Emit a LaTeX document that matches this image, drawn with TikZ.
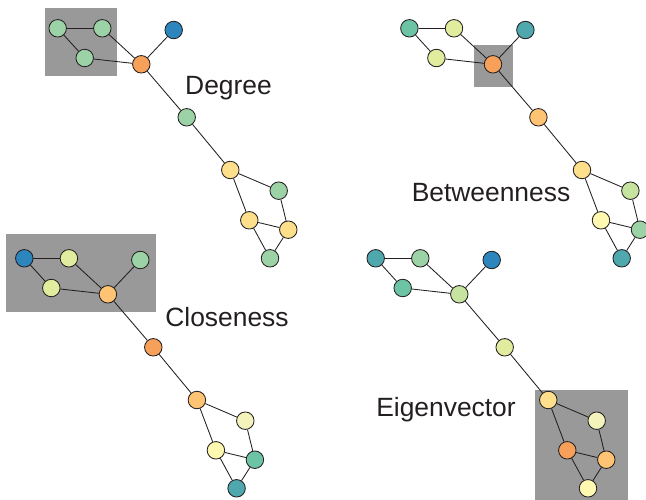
\documentclass[tikz,border=0pt]{standalone}
\usepackage{fontspec}
\setmainfont{Liberation Sans}
\definecolor{cBlue}{HTML}{2D85BE}
\definecolor{cTeal}{HTML}{4EA8AD}
\definecolor{cTealG}{HTML}{6CC4A5}
\definecolor{cGreen}{HTML}{9CD3A6}
\definecolor{cYG}{HTML}{C6E4A0}
\definecolor{cLime}{HTML}{E2EC9E}
\definecolor{cPale}{HTML}{F4F3BC}
\definecolor{cPaleY}{HTML}{FEF8B0}
\definecolor{cYellow}{HTML}{FDDF8C}
\definecolor{cLOrange}{HTML}{FEC373}
\definecolor{cOrange}{HTML}{F6A05A}
\definecolor{hlgray}{HTML}{999999}
\definecolor{ink}{HTML}{231F20}
\tikzset{
  vtx/.style={circle, draw=ink, line width=0.85pt, minimum size=17.5pt, inner sep=0pt},
  edge/.style={draw=ink, line width=0.85pt},
  hlbox/.style={fill=hlgray, draw=none},
  lbl/.style={font=\fontsize{26.4}{30}\selectfont, text=ink, anchor=base, inner sep=0pt}
}
\begin{document}
\begin{tikzpicture}[x=1pt,y=-1pt]
\useasboundingbox (0,0) rectangle (646,499);
% highlight boxes
\fill[hlbox] (45,7.7) rectangle (117,75.7);
\fill[hlbox] (474,45) rectangle (512.7,86.7);
\fill[hlbox] (6,234) rectangle (156,311.7);
\fill[hlbox] (535,390) rectangle (628,502);
% Degree
\begin{scope}
\foreach \n/\x/\y/\c in {A/57.7/28.3/cGreen, B/102.3/28.3/cGreen, C/84.7/58/cGreen, D/141.3/64.3/cOrange, E/173.7/30/cBlue, F/186.7/117.3/cGreen, G/230.3/170/cYellow, H/278.7/190.7/cGreen, I/249.3/220.3/cYellow, J/288.3/229.7/cYellow, K/270/258.3/cGreen}
  \node[vtx, fill=\c] (d\n) at (\x,\y) {};
\end{scope}
% Betweenness
\begin{scope}[shift={(351.7,0)}]
\foreach \n/\x/\y/\c in {A/57.7/28.3/cTealG, B/102.3/28.3/cLime, C/84.7/58/cLime, D/141.3/64.3/cOrange, E/173.7/30/cTeal, F/186.7/117.3/cLOrange, G/230.3/170/cYellow, H/278.7/190.7/cYG, I/249.3/220.3/cPaleY, J/288.3/229.7/cGreen, K/270/258.3/cTeal}
  \node[vtx, fill=\c] (b\n) at (\x,\y) {};
\end{scope}
% Closeness
\begin{scope}[shift={(-33.4,230)}]
\foreach \n/\x/\y/\c in {A/57.7/28.3/cBlue, B/102.3/28.3/cLime, C/84.7/58/cLime, D/141.3/64.3/cLOrange, E/173.7/30/cGreen, F/186.7/117.3/cOrange, G/230.3/170/cLOrange, H/278.7/190.7/cPale, I/249.3/220.3/cPaleY, J/288.3/229.7/cTealG, K/270/258.3/cTeal}
  \node[vtx, fill=\c] (c\n) at (\x,\y) {};
\end{scope}
% Eigenvector
\begin{scope}[shift={(318,230)}]
\foreach \n/\x/\y/\c in {A/57.7/28.3/cTeal, B/102.3/28.3/cGreen, C/84.7/58/cTealG, D/141.3/64.3/cYG, E/173.7/30/cBlue, F/186.7/117.3/cLime, G/230.3/170/cYellow, H/278.7/190.7/cPale, I/249.3/220.3/cOrange, J/288.3/229.7/cLOrange, K/270/258.3/cPaleY}
  \node[vtx, fill=\c] (e\n) at (\x,\y) {};
\end{scope}
% edges
\foreach \p in {d,b,c,e}{
  \draw[edge] (\p A) -- (\p B);
  \draw[edge] (\p A) -- (\p C);
  \draw[edge] (\p B) -- (\p D);
  \draw[edge] (\p C) -- (\p D);
  \draw[edge] (\p D) -- (\p E);
  \draw[edge] (\p D) -- (\p F);
  \draw[edge] (\p F) -- (\p G);
  \draw[edge] (\p G) -- (\p H);
  \draw[edge] (\p G) -- (\p I);
  \draw[edge] (\p H) -- (\p J);
  \draw[edge] (\p I) -- (\p J);
  \draw[edge] (\p I) -- (\p K);
  \draw[edge] (\p J) -- (\p K);
}
% labels
\node[lbl] (tDeg) at (228.5,94) {Degree};
\node[lbl] (tBet) at (491,201) {Betweenness};
\node[lbl] (tClo) at (227,326.5) {Closeness};
\node[lbl] (tEig) at (446,416.7) {Eigenvector};
\end{tikzpicture}
\end{document}
